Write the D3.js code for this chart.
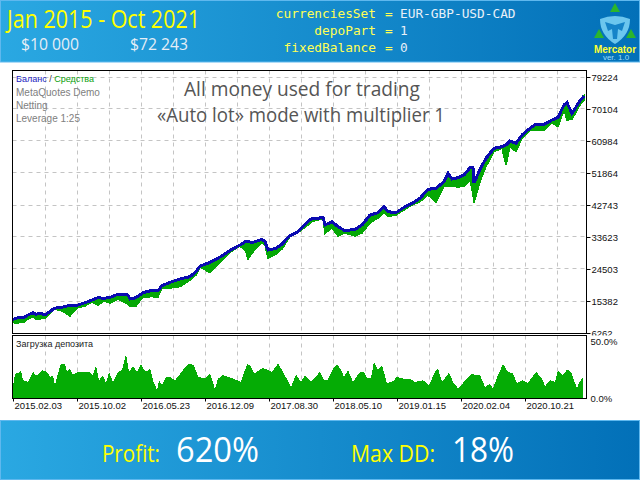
<!DOCTYPE html>
<html>
<head>
<meta charset="utf-8">
<script src="https://cdnjs.cloudflare.com/ajax/libs/d3/7.8.5/d3.min.js"></script>
<style>
    html, body { margin: 0; padding: 0; background: #fff; }
    svg { display: block; }
    .axis-label { font-family: "Liberation Sans", sans-serif; font-size: 9.5px; fill: #111; }
</style>
</head>
<body>
<div id="chart"></div>
<script>
// chart bar number of every reading (bar 0 is the left edge of the plot)
const balanceBars = [0, 4, 11, 15, 20, 23, 27, 32, 37, 41, 49, 57, 64, 72, 79, 85, 91, 97, 105, 115, 117, 123, 130, 139, 145, 149, 157, 167, 177, 183, 187, 197, 207, 219, 227, 233, 235, 239, 249, 252, 255, 263, 269, 277, 285, 293, 299, 305, 310, 312, 319, 325, 332, 342, 349, 357, 365, 371, 375, 383, 391, 399, 407, 415, 423, 431, 435, 439, 445, 451, 457, 460, 461, 467, 473, 481, 489, 493, 497, 503, 509, 517, 523, 531, 539, 545, 551, 554, 559, 567, 571];
const balanceValues = [10000, 10400, 10600, 11250, 11900, 11450, 11730, 11340, 12190, 13160, 13440, 14010, 14010, 14750, 15520, 16180, 16010, 16290, 17150, 16950, 15810, 16180, 17600, 18290, 18180, 19600, 20570, 21510, 22170, 23590, 25210, 26210, 27780, 29970, 31200, 32250, 32200, 31860, 32820, 32140, 29770, 30260, 31480, 33850, 34990, 37380, 38810, 38810, 39090, 36900, 37840, 36420, 35280, 35670, 36900, 39750, 40410, 42120, 40690, 40410, 41940, 43080, 44510, 47070, 47360, 49240, 51630, 50010, 50380, 51150, 53230, 53280, 48870, 52770, 55910, 58760, 59220, 59700, 60840, 60180, 62550, 64460, 65680, 65600, 66820, 67590, 71100, 71760, 68730, 72330, 73660];
const equityLow = [9060, 8970, 9250, 10110, 10680, 10110, 10110, 10390, 11820, 12960, 12390, 10960, 13240, 13810, 14950, 14100, 15240, 14670, 15810, 14380, 13810, 13810, 16380, 16470, 16380, 18940, 18940, 19320, 21220, 22650, 24930, 23310, 26350, 29490, 30910, 29290, 27120, 28920, 31860, 31200, 27410, 28630, 30060, 33570, 34710, 36420, 37840, 38320, 38610, 34530, 36040, 33760, 34620, 33760, 34620, 37470, 38890, 40320, 39270, 39750, 41170, 42600, 43540, 45450, 43260, 47820, 47820, 48010, 47730, 48010, 49720, 45450, 43260, 49240, 53520, 57790, 58760, 54000, 59220, 57790, 61690, 63970, 63970, 63970, 65970, 64920, 69670, 66820, 67020, 71100, 72520];

// deposit load, percent
const loadBars = [0, 2, 5, 8, 10, 15, 20, 22, 25, 29, 34, 37, 40, 42, 44, 48, 52, 54, 57, 60, 65, 70, 77, 80, 83, 86, 90, 93, 96, 100, 105, 109, 113, 116, 120, 124, 128, 130, 133, 137, 140, 144, 146, 149, 153, 157, 162, 172, 176, 181, 185, 192, 197, 202, 205, 210, 217, 222, 228, 234, 237, 241, 250, 255, 259, 265, 270, 278, 283, 288, 292, 298, 304, 307, 311, 315, 320, 324, 328, 331, 335, 340, 347, 351, 354, 358, 361, 365, 369, 374, 380, 384, 390, 397, 402, 410, 416, 422, 425, 429, 436, 440, 445, 452, 458, 467, 472, 477, 480, 485, 490, 495, 500, 504, 509, 515, 523, 529, 532, 537, 542, 545, 550, 554, 558, 564, 566, 570];
const loadValues = [10.2, 21.9, 22, 24.9, 16, 14.6, 23.4, 21, 20.5, 24.9, 23.4, 19, 19.9, 11.7, 19, 30.7, 29.8, 23.4, 26.3, 21, 23.4, 23.4, 22.8, 20.5, 29.2, 16, 20.5, 13.2, 23.4, 14.6, 23.4, 24.9, 38.9, 23.4, 28.4, 23.4, 30.7, 26.3, 23.4, 26.3, 16, 7.3, 16, 11.7, 18.4, 19, 16, 27.2, 30.7, 29.2, 19, 17.5, 21.9, 8.2, 17.5, 20.5, 18.4, 16.7, 14.6, 30.1, 29.2, 21.9, 26.9, 24.9, 23.4, 30.7, 23.4, 10.2, 21, 14.6, 20.5, 14.6, 20.5, 23.4, 16, 16.7, 26.3, 30.1, 25.4, 19, 24.9, 14.6, 23.4, 23.4, 17.5, 18, 32.2, 24.9, 29.2, 13.2, 15.2, 19, 17.5, 17.5, 14.6, 16, 11.7, 23.4, 26.3, 14.6, 22.5, 14.6, 8.8, 15.5, 21.3, 20.5, 10.2, 12.6, 8.8, 20.5, 30.1, 23.4, 21.9, 13.2, 16, 13.7, 23.4, 17.5, 10.8, 16, 14.6, 24.9, 20.5, 25.4, 23.4, 8.8, 13.7, 19];

const yTicks = [79224, 70104, 60984, 51864, 42743, 33623, 24503, 15382, 6262];
const gridBars = [32, 64, 96, 128, 160, 192, 224, 256, 288, 320, 352, 384, 416, 448, 480, 512, 544];
const dateBars = [0, 64, 128, 192, 256, 320, 384, 448, 512];
const dateLabels = ["2015.02.03", "2015.10.02", "2016.05.23", "2016.12.09", "2017.08.30", "2018.05.10", "2019.01.15", "2020.02.04", "2020.10.21"];
const loadTicks = [50, 0];

const settingNames = ["currenciesSet", "depoPart", "fixedBalance"];
const settingValues = ["EUR-GBP-USD-CAD", "1", "0"];

const width = 640, height = 480;
const plot = {left: 12.5, right: 586.5, top: 70.5, bottom: 333.5};
const pane = {top: 335.5, bottom: 398.5};

const svg = d3.select('#chart').append('svg')
    .attr('width', width)
    .attr('height', height);

const defs = svg.append('defs');
const bandGradient = defs.append('linearGradient').attr('id', 'band');
bandGradient.append('stop').attr('offset', '0%').attr('stop-color', '#2aa8e2');
bandGradient.append('stop').attr('offset', '100%').attr('stop-color', '#0270b8');
defs.append('clipPath').attr('id', 'plot-clip').append('rect')
    .attr('x', 0).attr('y', plot.top).attr('width', width).attr('height', plot.bottom - plot.top + 1.5);

// Header and footer bands
[[0.5, 61.5], [420.5, 59]].forEach(([y, h]) => {
    svg.append('rect')
        .attr('x', 0.5).attr('y', y).attr('width', 639).attr('height', h)
        .attr('fill', 'url(#band)')
        .attr('stroke', '#5fb8ee');
});

function bandText(x, y, str, size, color, len, anchor) {
    return svg.append('text')
        .attr('x', x).attr('y', y)
        .attr('font-family', '"Open Sans", sans-serif')
        .attr('font-size', size)
        .attr('fill', color)
        .attr('textLength', len)
        .attr('lengthAdjust', 'spacingAndGlyphs')
        .attr('text-anchor', anchor || 'start')
        .text(str);
}

bandText(7, 28, 'Jan 2015 - Oct 2021', 25, '#ffff00', 193);
bandText(21, 50, '$10 000', 16.5, '#e6eef6', 58);
bandText(130, 50, '$72 243', 16.5, '#e6eef6', 58);

bandText(102, 462, 'Profit:', 23, '#ffff00', 58);
bandText(176, 462, '620%', 34, '#ffffff', 83);
bandText(351, 462, 'Max DD:', 23, '#ffff00', 84);
bandText(452, 462, '18%', 34, '#ffffff', 62);

// Settings block, name = value
settingNames.forEach((name, i) => {
    const y = 18 + i * 17;
    const row = svg.append('text')
        .attr('y', y)
        .attr('font-family', '"DejaVu Sans Mono", monospace')
        .attr('font-size', 12.8);
    row.append('tspan').attr('x', 376).attr('text-anchor', 'end').attr('fill', '#ffff55').text(name);
    svg.append('text').attr('x', 385).attr('y', y)
        .attr('font-family', '"DejaVu Sans Mono", monospace').attr('font-size', 12.8)
        .attr('fill', '#ffff55').text('=');
    svg.append('text').attr('x', 400).attr('y', y)
        .attr('font-family', '"DejaVu Sans Mono", monospace').attr('font-size', 12.8)
        .attr('fill', '#e8f0f8').text(settingValues[i]);
});

// Logo
const logo = svg.append('g').attr('transform', 'translate(615,0)');
[[0, 3], [-16, 29], [16, 29]].forEach(([x, y]) => {
    logo.append('path')
        .attr('d', `M${x - 5},${y + 9}L${x},${y}L${x + 5},${y + 9}Z`)
        .attr('fill', '#2cb52c');
});
logo.append('path')
    .attr('d', 'M-15,19Q0,13 15,19Q15,35 0,44Q-15,35 -15,19Z')
    .attr('fill', '#6cc6ee');
logo.append('path')
    .attr('d', 'M-10,22L0,25L10,22L7,31L3,29L2,39L-2,39L-3,29L-7,31Z')
    .attr('fill', '#1583c8');
svg.append('text').attr('x', 615).attr('y', 52.5).attr('text-anchor', 'middle')
    .attr('font-family', '"Liberation Sans", sans-serif').attr('font-size', 10).attr('font-weight', 'bold')
    .attr('fill', '#ffff33').text('Mercator');
svg.append('text').attr('x', 616).attr('y', 60).attr('text-anchor', 'middle')
    .attr('font-family', '"Liberation Sans", sans-serif').attr('font-size', 8)
    .attr('fill', '#9fdcf8').text('ver. 1.0');

// Scales
const x = d3.scaleLinear().domain([0, 573]).range([13, 586]);
const y = d3.scaleLinear().domain([6262, 79224]).range([332.5, 76.5]);
const yLoad = d3.scaleLinear().domain([0, 50]).range([398.5, 341.5]);

// Grid
const grid = svg.append('g')
    .attr('stroke', '#c4c4c4')
    .attr('stroke-dasharray', '4,4')
    .attr('fill', 'none');

grid.selectAll('line.h')
    .data(yTicks.slice(0, -1))
    .join('line')
    .attr('class', 'h')
    .attr('x1', plot.left).attr('x2', plot.right)
    .attr('y1', d => Math.round(y(d)) + 0.5)
    .attr('y2', d => Math.round(y(d)) + 0.5);

gridBars.forEach(b => {
    grid.append('line')
        .attr('x1', x(b) + 0.5).attr('x2', x(b) + 0.5)
        .attr('y1', plot.top).attr('y2', plot.bottom);
    grid.append('line')
        .attr('x1', x(b) + 0.5).attr('x2', x(b) + 0.5)
        .attr('y1', pane.top).attr('y2', pane.bottom);
});

// Equity drawdowns below the balance line
const balanceData = balanceBars.map((b, i) => ({bar: b, balance: balanceValues[i], low: equityLow[i]}));

svg.append('path')
    .datum(balanceData)
    .attr('fill', '#05a805')
    .attr('stroke', '#05a805')
    .attr('stroke-width', 1.5)
    .attr('shape-rendering', 'crispEdges')
    .attr('d', d3.area().x(d => x(d.bar)).y0(d => y(d.balance)).y1(d => y(d.low)));

svg.append('path')
    .datum(balanceData)
    .attr('fill', 'none')
    .attr('stroke', '#0b0bb0')
    .attr('stroke-width', 3)
    .attr('shape-rendering', 'crispEdges')
    .attr('d', d3.line().x(d => x(d.bar)).y(d => y(d.balance)));

// Deposit load
const loadData = loadBars.map((b, i) => ({bar: b, load: loadValues[i]}));

svg.append('path')
    .datum(loadData)
    .attr('fill', '#05ac05')
    .attr('shape-rendering', 'crispEdges')
    .attr('d', d3.area().x(d => x(d.bar)).y0(yLoad(0)).y1(d => yLoad(d.load)));

// Frames
[[plot.top, plot.bottom], [pane.top, pane.bottom]].forEach(([t, b]) => {
    svg.append('rect')
        .attr('x', plot.left).attr('y', t)
        .attr('width', plot.right - plot.left).attr('height', b - t)
        .attr('fill', 'none')
        .attr('stroke', '#000');
});

// Axes
const yAxis = svg.append('g')
    .attr('transform', `translate(${plot.right},0.5)`)
    .attr('clip-path', 'url(#plot-clip)')
    .call(d3.axisRight(y).tickValues(yTicks).tickFormat(d3.format('d')).tickSize(4).tickPadding(1));

const loadAxis = svg.append('g')
    .attr('transform', `translate(${plot.right},0)`)
    .call(d3.axisRight(yLoad).tickValues(loadTicks).tickFormat(d => d.toFixed(1) + '%').tickSize(0).tickPadding(4));

const xAxis = svg.append('g')
    .attr('transform', `translate(0,${pane.bottom})`)
    .call(d3.axisBottom(x).tickValues(dateBars).tickFormat((d, i) => dateLabels[i]).tickSize(3).tickPadding(1));
xAxis.selectAll('text').attr('text-anchor', 'start').attr('dx', 1);

[yAxis, loadAxis, xAxis].forEach(a => {
    a.select('.domain').remove();
    a.attr('font-family', null).attr('font-size', null);
    a.selectAll('text').attr('class', 'axis-label');
});

// Overlay texts
const note = (str, cx, yy, len) => svg.append('text')
    .attr('x', cx).attr('y', yy)
    .attr('text-anchor', 'middle')
    .attr('font-family', '"Open Sans", sans-serif')
    .attr('font-size', 20)
    .attr('fill', '#555')
    .attr('textLength', len)
    .attr('lengthAdjust', 'spacingAndGlyphs')
    .text(str);
note('All money used for trading', 302, 96, 236);
note('«Auto lot» mode with multiplier 1', 301, 122, 288);

const legend = svg.append('text')
    .attr('x', 16).attr('y', 82)
    .attr('font-family', '"Liberation Sans", sans-serif')
    .attr('font-size', 9);
legend.append('tspan').attr('fill', '#1a1ac0').text('Баланс');
legend.append('tspan').attr('fill', '#333').text(' / ');
legend.append('tspan').attr('fill', '#0aa00a').text('Средства');

['MetaQuotes Demo', 'Netting', 'Leverage 1:25'].forEach((str, i) => {
    svg.append('text')
        .attr('x', 16).attr('y', 96 + i * 13)
        .attr('font-family', '"Liberation Sans", sans-serif')
        .attr('font-size', 10)
        .attr('fill', '#808080')
        .text(str);
});

svg.append('text')
    .attr('x', 16).attr('y', 347)
    .attr('font-family', '"Liberation Sans", sans-serif')
    .attr('font-size', 9)
    .attr('fill', '#222')
    .text('Загрузка депозита');
</script>
</body>
</html>
